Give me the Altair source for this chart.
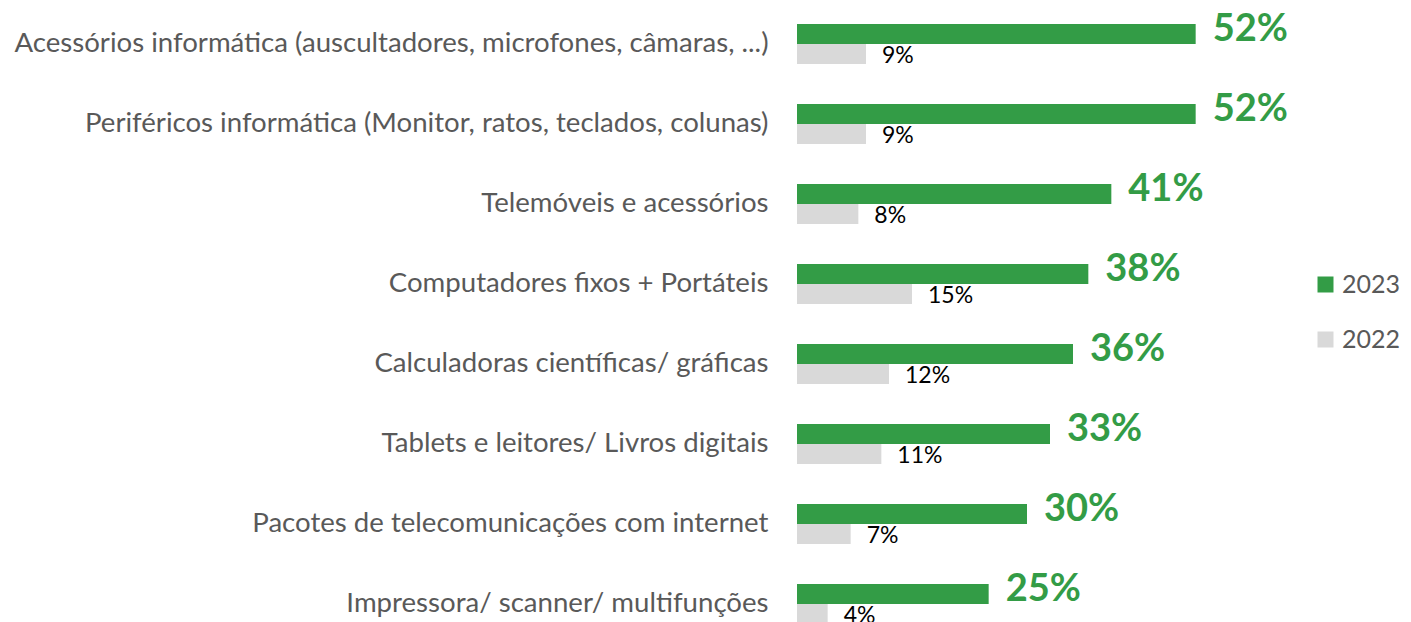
import altair as alt
import pandas as pd

categories = [
    "Acessórios informática (auscultadores, microfones, câmaras, ...)",
    "Periféricos informática (Monitor, ratos, teclados, colunas)",
    "Telemóveis e acessórios",
    "Computadores fixos + Portáteis",
    "Calculadoras científicas/ gráficas",
    "Tablets e leitores/ Livros digitais",
    "Pacotes de telecomunicações com internet",
    "Impressora/ scanner/ multifunções",
]
v2023 = [52, 52, 41, 38, 36, 33, 30, 25]
v2022 = [9, 9, 8, 15, 12, 11, 7, 4]
years = ["2023", "2022"]

rows = []
for c, a, b in zip(categories, v2023, v2022):
    rows.append({"cat": c, "year": "2023", "v": a, "lbl": f"{a}%"})
    rows.append({"cat": c, "year": "2022", "v": b, "lbl": f"{b}%"})
df = pd.DataFrame(rows)

GREEN = "#339C46"
GRAY = "#D9D9D9"
FONT = "Lato"

y = alt.Y(
    "cat:N",
    sort=categories,
    scale=alt.Scale(range=[0, 632], paddingInner=0.5, paddingOuter=0.2),
    axis=alt.Axis(
        title=None, domain=False, ticks=False, tickSize=0, labelPadding=29,
        labelFont=FONT, labelFontSize=27.6, labelColor="#595959", labelLimit=900,
    ),
)
x = alt.X("v:Q", scale=alt.Scale(domain=[0, 60]), axis=None)
color = alt.Color(
    "year:N",
    scale=alt.Scale(domain=years, range=[GREEN, GRAY]),
    legend=alt.Legend(
        title=None, orient="none", legendX=516, legendY=264,
        symbolType="square", symbolSize=256, symbolStrokeWidth=0,
        labelFont=FONT, labelFontSize=25, labelColor="#595959",
        rowPadding=29, labelOffset=4,
    ),
)

base = alt.Chart(df)
g = base.transform_filter(alt.datum.year == "2023")
p = base.transform_filter(alt.datum.year == "2022")

bars23 = g.mark_bar(size=20, yOffset=-10).encode(x=x, y=y, color=color)
bars22 = p.mark_bar(size=20, yOffset=10).encode(x=x, y=y, color=color)
txt23 = g.mark_text(
    align="left", baseline="middle", dx=17, yOffset=-14,
    font=FONT, fontSize=38, fontWeight="bold", color=GREEN,
).encode(x=x, y=y, text="lbl:N")
txt22 = p.mark_text(
    align="left", baseline="middle", dx=16, yOffset=12,
    font=FONT, fontSize=23, color="#000000",
).encode(x=x, y=y, text="lbl:N")

chart = (
    alt.layer(bars23, bars22, txt23, txt22)
    .properties(
        width=460, height=614,
        autosize=alt.AutoSizeParams(type="none"),
        padding={"left": 789, "top": 0, "right": 146, "bottom": 0},
        background="#ffffff",
    )
    .configure_view(strokeWidth=0, stroke=None)
)

chart.save("out.html", embed_options={"renderer": "svg", "actions": False})
